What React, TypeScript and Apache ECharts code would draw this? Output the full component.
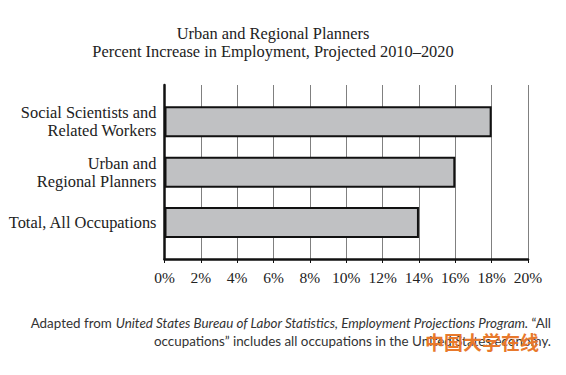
import React, { useEffect, useRef } from "react";
import * as echarts from "echarts";

const categories = [
  "Total, All Occupations",
  "Urban and\nRegional Planners",
  "Social Scientists and\nRelated Workers",
];
const values = [14, 16, 18];
const titleLines = [
  "Urban and Regional Planners",
  "Percent Increase in Employment, Projected 2010\u20132020",
];
const xTicksMin = 0;
const xTicksMax = 20;
const xTickStep = 2;

export default function App() {
  const ref = useRef<HTMLDivElement>(null);
  useEffect(() => {
    if (!ref.current) return;
    const chart = echarts.init(ref.current, null, { renderer: "svg" });
    const serif = "'Liberation Serif', 'Times New Roman', serif";
    const sans = "Lato, 'Noto Sans', sans-serif";
    chart.setOption({
      animation: false,
      backgroundColor: "#ffffff",
      title: [
        {
          text: titleLines.join("\n"),
          left: 273,
          top: 24,
          textAlign: "center",
          padding: 0,
          textStyle: {
            fontFamily: serif,
            fontSize: 16.4,
            fontWeight: "normal",
            color: "#222",
            lineHeight: 18,
          },
        },
        {
          text:
            "Adapted from {i|United States Bureau of Labor Statistics, Employment Projections Program.} \u201cAll\noccupations\u201d includes all occupations in the United States economy.",
          left: 551,
          top: 314,
          textAlign: "right",
          padding: 0,
          textStyle: {
            fontFamily: sans,
            fontSize: 13.4,
            fontWeight: "normal",
            color: "#333",
            lineHeight: 18,
            rich: {
              i: {
                fontFamily: sans,
                fontSize: 13.4,
                fontStyle: "italic",
                color: "#333",
                lineHeight: 18,
              },
            },
          },
        },
      ],
      graphic: [
        {
          type: "text",
          left: 425,
          top: 332,
          z: 100,
          style: {
            text: "中国大学在线",
            font: "bold 19px 'Noto Sans CJK SC'",
            fill: "#e8792c",
          },
        },
      ],
      grid: [
        { left: 164.5, right: 38, top: 96.6, height: 151.2 },
        { left: 164.5, right: 38, top: 85, bottom: 116 },
      ],
      xAxis: [
        {
          type: "value",
          gridIndex: 0,
          min: xTicksMin,
          max: xTicksMax,
          interval: xTickStep,
          show: false,
        },
        {
          type: "value",
          gridIndex: 1,
          min: xTicksMin,
          max: xTicksMax,
          interval: xTickStep,
          axisLine: { show: true, onZero: false, lineStyle: { color: "#111", width: 2.5 } },
          axisTick: { show: true, length: 4, lineStyle: { color: "#111", width: 1 } },
          splitLine: { show: true, lineStyle: { color: "#808080", width: 1 } },
          axisLabel: {
            formatter: "{value}%",
            fontFamily: serif,
            fontSize: 15.5,
            color: "#222",
            margin: 10,
          },
        },
      ],
      yAxis: [
        {
          type: "category",
          gridIndex: 0,
          data: categories,
          axisLine: { show: false },
          axisTick: { show: false },
          splitLine: { show: false },
          axisLabel: {
            fontFamily: serif,
            fontSize: 16.4,
            color: "#222",
            lineHeight: 18,
            align: "right",
            margin: 8,
          },
        },
        {
          type: "value",
          gridIndex: 1,
          min: 0,
          max: 1,
          axisLine: { show: true, lineStyle: { color: "#111", width: 2.5 } },
          axisTick: { show: false },
          axisLabel: { show: false },
          splitLine: { show: false },
        },
      ],
      series: [
        {
          type: "bar",
          xAxisIndex: 0,
          yAxisIndex: 0,
          data: values,
          barWidth: 31,
          z: 5,
          itemStyle: { color: "#c0c1c3", borderColor: "#111", borderWidth: 2 },
        },
      ],
    });
    return () => chart.dispose();
  }, []);
  return (
    <div
      ref={ref}
      style={{ position: "absolute", left: 0, top: 0, width: 566, height: 375 }}
    />
  );
}
